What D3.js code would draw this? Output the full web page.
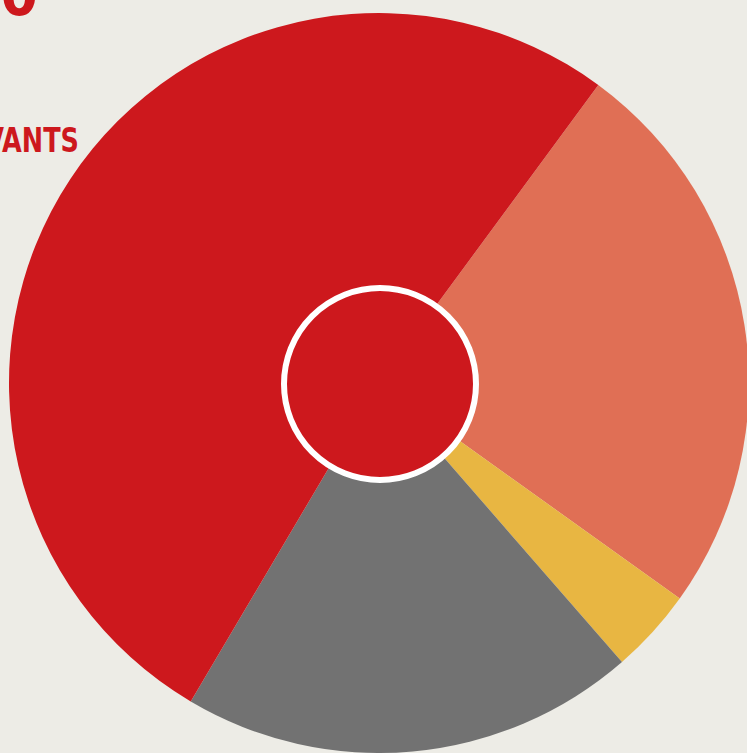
<!DOCTYPE html>
<html>
<head>
<meta charset="utf-8">
<script src="https://cdn.jsdelivr.net/npm/d3@7"></script>
<style>
  html, body { margin: 0; padding: 0; background: #edece6; overflow: hidden; }
  svg { display: block; }
</style>
</head>
<body>
<div id="chart"></div>
<script>
// Data (percentages)
const categories = ["Salmon", "Yellow", "Gray", "Red"];
const values = [24.8, 3.7, 19.9, 51.6];
const colors = ["#e06f55", "#e8b642", "#727272", "#cd181d"];
const labels = ["0", "SERVANTS"];

const W = 747, H = 753;
const cx = 379, cy = 383, R = 370, innerR = 96;

const svg = d3.select("#chart").append("svg")
  .attr("width", W).attr("height", H);

svg.append("rect").attr("width", W).attr("height", H).attr("fill", "#edece6");

const pie = d3.pie().sort(null).value(d => d)
  .startAngle(36.35 * Math.PI / 180)
  .endAngle(36.35 * Math.PI / 180 + 2 * Math.PI);

const arc = d3.arc().innerRadius(0).outerRadius(R);

const g = svg.append("g").attr("transform", `translate(${cx},${cy})`);

g.selectAll("path.slice")
  .data(pie(values))
  .join("path")
  .attr("class", "slice")
  .attr("d", arc)
  .attr("fill", (d, i) => colors[i]);

g.append("circle")
  .attr("r", innerR)
  .attr("cx", 1)
  .attr("cy", 1)
  .attr("fill", colors[3])
  .attr("stroke", "#ffffff")
  .attr("stroke-width", 6);

const font = "'DejaVu Sans Condensed', 'DejaVu Sans', sans-serif";

// Partially visible title texts (cut off at the left/top edge)
svg.append("text")
  .attr("transform", "translate(38,15) scale(1,1)")
  .attr("text-anchor", "end")
  .attr("font-family", font)
  .attr("font-weight", "bold")
  .attr("font-size", 60)
  .attr("fill", "#cd181d")
  .text(labels[0]);

svg.append("text")
  .attr("transform", "translate(79,152) scale(0.86,1)")
  .attr("text-anchor", "end")
  .attr("font-family", font)
  .attr("font-weight", "bold")
  .attr("font-size", 33)
  .attr("fill", "#cd181d")
  .text(labels[1]);
</script>
</body>
</html>
